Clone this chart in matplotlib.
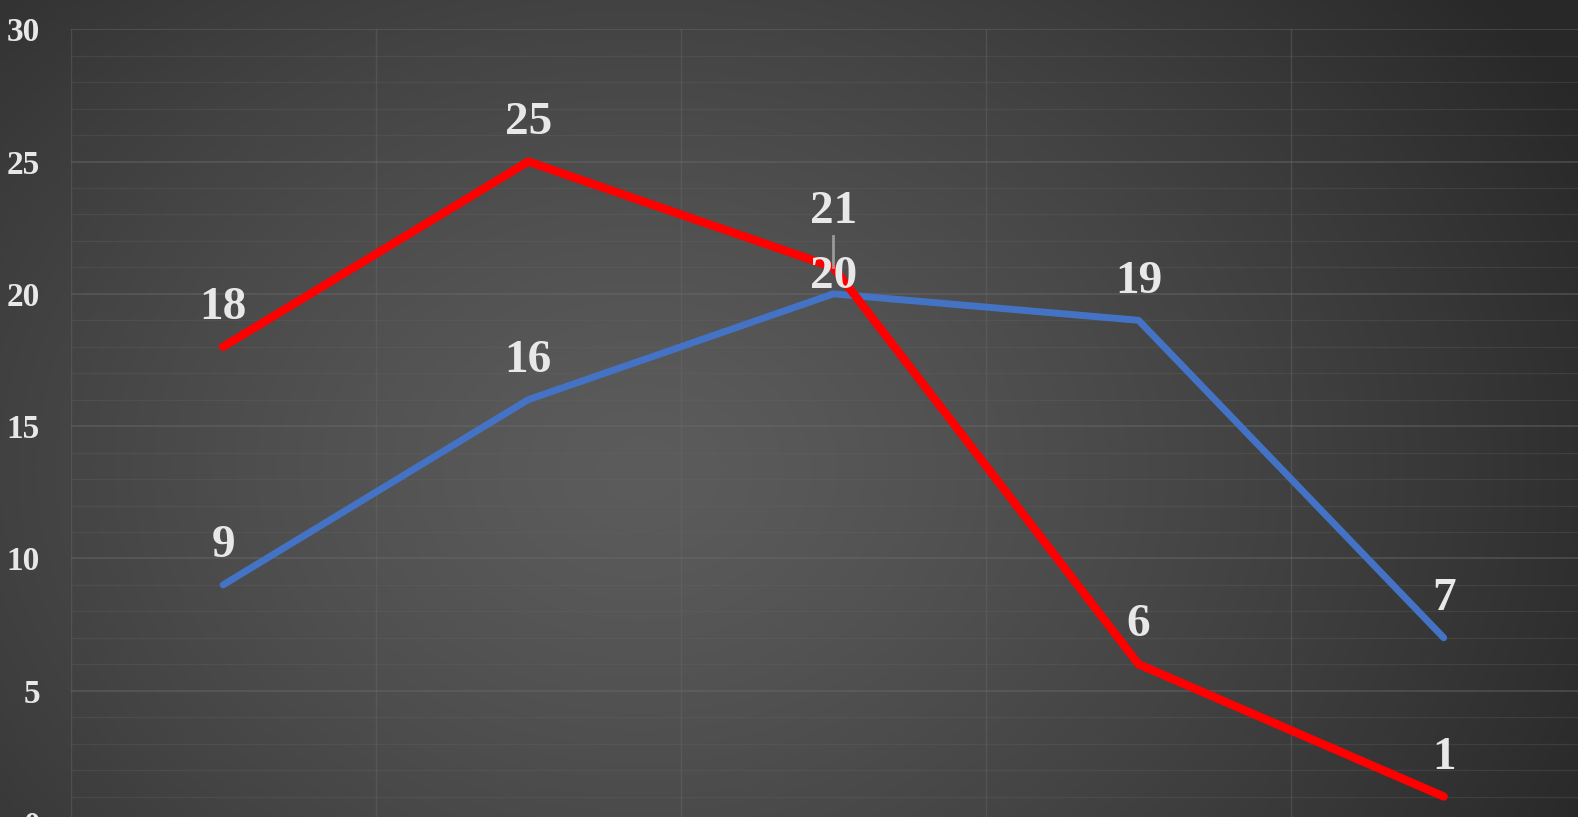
import numpy as np
import matplotlib
matplotlib.use("Agg")
import matplotlib.pyplot as plt
from matplotlib.ticker import MultipleLocator

# --- data ---
categories = ["1", "2", "3", "4", "5"]
red_values = [18, 25, 21, 6, 1]
blue_values = [9, 16, 20, 19, 7]
y_ticks = [0, 5, 10, 15, 20, 25, 30]

W, H, DPI = 1578, 817, 100
fig = plt.figure(figsize=(W / DPI, H / DPI), dpi=DPI)

# radial gradient background
bg = fig.add_axes([0, 0, 1, 1])
yy, xx = np.mgrid[0:H, 0:W]
r = np.sqrt(((xx - 640) / 1050.0) ** 2 + ((yy - 470) / 800.0) ** 2)
r = np.clip(r, 0, 1)
shade = 0.36 - 0.2 * r ** 1.3
bg.imshow(np.dstack([shade] * 3), aspect="auto", extent=[0, 1, 0, 1])
bg.set_axis_off()

# plot area: y=0 sits a few pixels below the bottom edge
top_px, zero_px = 29.3, 823.0
ax = fig.add_axes([70.5 / W, 1 - zero_px / H, 1 - 70.5 / W, (zero_px - top_px) / H])
ax.patch.set_alpha(0)
x = np.arange(len(categories))

ax.set_xlim(-0.5, 4.44)
ax.set_ylim(0, 30)
ax.set_yticks(y_ticks)
ax.yaxis.set_minor_locator(MultipleLocator(1))
ax.set_xticks(x - 0.5, minor=True)
ax.set_xticks([])
ax.grid(which="major", axis="y", color="#6a6a6a", lw=1.2, alpha=0.5)
ax.grid(which="minor", axis="y", color="#666666", lw=0.9, alpha=0.28)
ax.grid(which="minor", axis="x", color="#6a6a6a", lw=1.0, alpha=0.4)
ax.set_axisbelow(True)
for s in ax.spines.values():
    s.set_visible(False)
ax.tick_params(which="both", length=0)
ax.tick_params(axis="y", pad=22)
for lab in ax.get_yticklabels():
    lab.set_fontfamily("Liberation Serif")
    lab.set_fontweight("bold")
    lab.set_fontsize(24)
    lab.set_color("#e8e8e8")

ax.plot(x, blue_values, color="#4472c4", lw=5, solid_capstyle="round", zorder=3)
ax.plot(x, red_values, color="#ff0000", lw=6, solid_capstyle="round", zorder=4)

lbl = dict(family="Liberation Serif", weight="bold", fontsize=34, color="#e8e8e8",
           ha="center", va="baseline", zorder=6)
for xi, v in zip(x, red_values):
    dy = 20
    if v == 21:
        dy = 32
    ax.annotate(str(v), (xi, v), xytext=(0, dy), textcoords="offset points", **lbl)
for xi, v in zip(x, blue_values):
    dy = 20
    if v == 20:
        dy = 4.5
    ax.annotate(str(v), (xi, v), xytext=(0, dy), textcoords="offset points", **lbl)

# leader line for the moved "21" label
ax.plot([2, 2], [21, 22.2], color="#9a9a9a", lw=2, zorder=5)

fig.savefig("out.png", dpi=DPI)
